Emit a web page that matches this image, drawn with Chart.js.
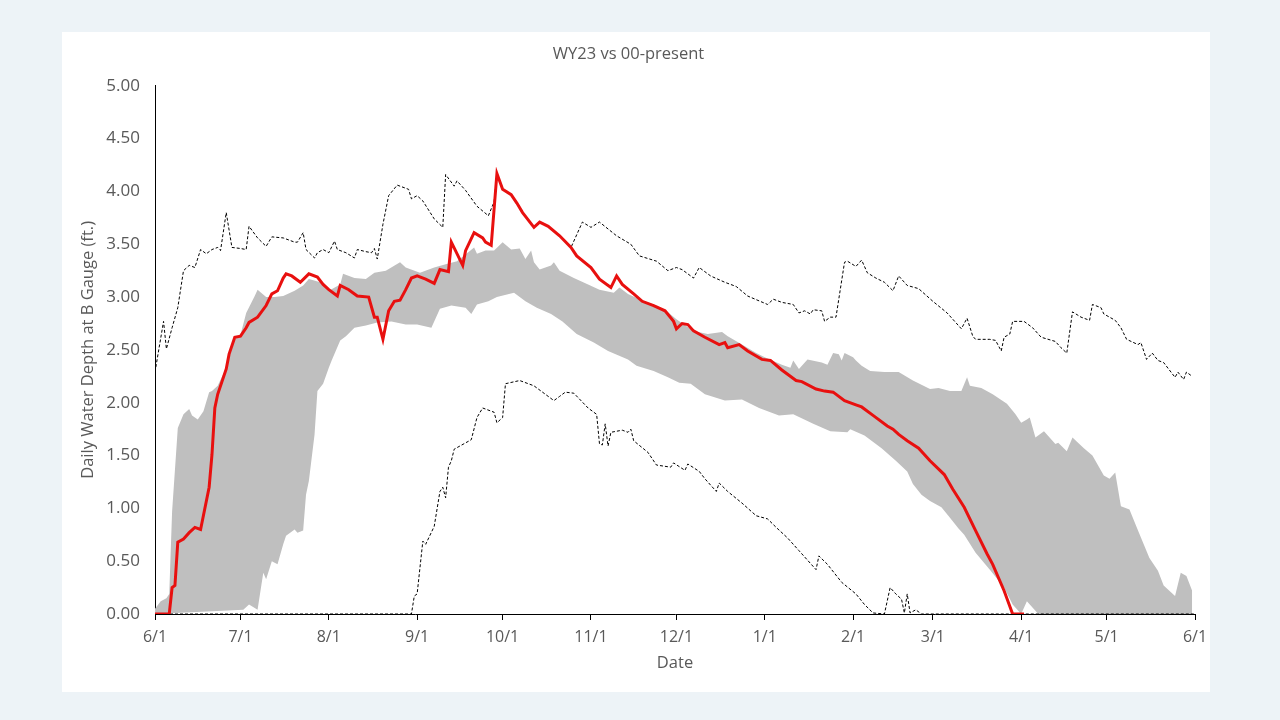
<!DOCTYPE html>
<html>
<head>
<meta charset="utf-8">
<title>WY23 vs 00-present</title>
<script src="https://cdn.jsdelivr.net/npm/chart.js@4.4.1/dist/chart.umd.min.js"></script>
<style>
  html, body { margin: 0; padding: 0; }
  body { width: 1280px; height: 720px; background: #edf3f7; position: relative; overflow: hidden; }
  .card { position: absolute; left: 62px; top: 32px; width: 1148px; height: 660px; background: #fff; }
  canvas { display: block; }
</style>
</head>
<body>
<div class="card"><canvas id="chart" width="1148" height="660"></canvas></div>
<script>
// x = days since 6/1, y = depth (ft.)
const tickDays = [0, 30, 61, 92, 122, 153, 183, 214, 245, 273, 304, 334, 365];
const tickLabels = ['6/1', '7/1', '8/1', '9/1', '10/1', '11/1', '12/1', '1/1', '2/1', '3/1', '4/1', '5/1', '6/1'];

// WY23 (red)
const wy23Days = [0,5,6,7,8,10,12,14,16,19,20,21,22,25,26,28,30,32,33,36,39,41,43,45,46,48,51,54,57,59,61,64,65,68,71,75,77,78,80,82,84,86,88,90,92,95,98,100,103,104,108,109,112,115,116,118,120,122,125,127,129,133,135,138,142,146,148,153,156,160,162,164,168,171,175,179,182,183,185,187,189,193,198,200,201,205,208,213,216,220,225,227,232,235,238,242,246,248,252,257,259,261,264,268,272,277,280,284,288,292,294,298,301,305];
const wy23Depth = [0,0,0.25,0.27,0.68,0.71,0.77,0.82,0.80,1.20,1.51,1.95,2.08,2.32,2.46,2.62,2.63,2.71,2.76,2.81,2.92,3.03,3.06,3.18,3.22,3.20,3.14,3.22,3.19,3.12,3.07,3.01,3.11,3.07,3.01,3.00,2.81,2.81,2.60,2.87,2.96,2.97,3.07,3.18,3.20,3.17,3.13,3.26,3.24,3.52,3.30,3.44,3.61,3.56,3.52,3.49,4.17,4.02,3.97,3.89,3.80,3.66,3.71,3.67,3.58,3.47,3.39,3.28,3.17,3.09,3.20,3.12,3.03,2.96,2.92,2.87,2.77,2.70,2.75,2.74,2.68,2.62,2.55,2.57,2.52,2.55,2.49,2.41,2.40,2.31,2.21,2.20,2.13,2.11,2.10,2.02,1.98,1.96,1.88,1.78,1.75,1.70,1.64,1.57,1.45,1.32,1.18,1.01,0.79,0.57,0.47,0.22,0,0];

// max of 00-present (dashed)
const maxDays = [0,3,4,6,8,10,12,14,16,18,20,22,23,25,27,30,32,33,36,39,41,45,49,50,52,53,56,57,59,61,63,64,67,70,71,74,76,77,78,80,82,85,89,90,92,94,98,101,102,105,106,109,113,117,119,120,122,125,127,129,133,135,138,142,146,150,153,156,162,167,170,176,180,183,185,189,191,195,200,204,208,215,217,220,224,226,228,230,231,234,235,237,239,242,243,246,248,250,253,256,259,261,264,268,273,278,283,285,287,288,293,295,297,298,300,301,305,308,311,316,318,320,322,325,328,329,332,333,337,339,341,345,346,348,350,352,354,358,359,361,362,364];
const maxDepth = [2.29,2.77,2.51,2.71,2.90,3.25,3.30,3.28,3.45,3.41,3.45,3.47,3.44,3.80,3.47,3.46,3.45,3.67,3.56,3.48,3.57,3.56,3.52,3.52,3.61,3.45,3.37,3.42,3.45,3.42,3.53,3.45,3.42,3.37,3.45,3.43,3.42,3.46,3.36,3.69,3.96,4.06,4.02,3.93,3.96,3.91,3.74,3.66,4.16,4.05,4.10,4.01,3.86,3.77,3.90,4.17,4.02,3.97,3.89,3.80,3.66,3.71,3.67,3.58,3.47,3.71,3.66,3.71,3.58,3.50,3.39,3.34,3.25,3.28,3.26,3.18,3.28,3.20,3.14,3.10,3.01,2.93,2.98,2.95,2.93,2.85,2.87,2.84,2.88,2.87,2.77,2.81,2.81,3.33,3.34,3.29,3.35,3.23,3.18,3.14,3.06,3.20,3.11,3.08,2.96,2.85,2.70,2.80,2.63,2.60,2.60,2.59,2.49,2.62,2.65,2.77,2.77,2.71,2.62,2.58,2.52,2.47,2.86,2.81,2.78,2.93,2.90,2.84,2.78,2.71,2.60,2.55,2.57,2.41,2.47,2.40,2.38,2.24,2.29,2.22,2.29,2.25];

// min of 00-present (dashed)
const minDays = [0,90,91,92,94,95,98,100,101,102,103,104,105,109,111,113,115,119,120,122,123,128,133,140,142,144,147,152,155,156,157,158,159,160,164,166,167,168,173,176,181,182,186,187,191,193,197,198,201,206,211,215,218,222,226,232,233,236,241,246,249,252,256,258,260,262,263,264,265,267,269,365];
const minDepth = [0,0,0.17,0.19,0.69,0.66,0.83,1.16,1.20,1.10,1.39,1.45,1.56,1.62,1.65,1.86,1.95,1.91,1.81,1.86,2.18,2.21,2.16,2.02,2.06,2.10,2.09,1.95,1.89,1.61,1.60,1.80,1.59,1.72,1.74,1.72,1.75,1.64,1.53,1.41,1.39,1.43,1.36,1.42,1.35,1.28,1.16,1.24,1.16,1.05,0.93,0.90,0.82,0.72,0.60,0.42,0.55,0.47,0.30,0.19,0.09,0.01,0,0.25,0.19,0.14,0.01,0.19,0.01,0.04,0,0];

// grey band, upper edge
const bandHiDays = [0,2,4,5,6,8,10,12,13,15,17,19,20,22,25,26,28,30,32,35,36,39,42,45,49,52,54,58,61,65,66,70,74,77,81,86,88,93,98,102,106,112,113,116,119,122,125,128,130,132,133,135,139,140,142,147,152,156,161,163,166,170,175,179,183,189,194,199,201,206,211,214,220,223,224,226,229,234,236,238,240,241,242,245,246,248,251,256,261,266,272,275,279,283,285,286,290,294,299,302,304,306,307,309,312,316,317,320,322,326,329,333,335,337,339,342,345,349,352,354,358,360,362,364];
const bandHiDepth = [0.05,0.12,0.15,0.19,0.97,1.76,1.89,1.94,1.88,1.84,1.92,2.10,2.11,2.16,2.33,2.47,2.60,2.64,2.85,3.01,3.07,3.00,3.00,3.01,3.06,3.11,3.17,3.14,3.06,3.12,3.22,3.18,3.17,3.23,3.25,3.33,3.28,3.23,3.28,3.31,3.34,3.47,3.41,3.44,3.44,3.52,3.45,3.46,3.36,3.44,3.33,3.26,3.30,3.33,3.25,3.18,3.12,3.07,3.04,3.09,3.03,2.98,2.93,2.88,2.79,2.68,2.65,2.67,2.63,2.55,2.47,2.43,2.36,2.33,2.40,2.32,2.41,2.38,2.36,2.47,2.46,2.40,2.47,2.43,2.40,2.35,2.30,2.29,2.29,2.21,2.13,2.14,2.11,2.11,2.24,2.16,2.14,2.08,1.99,1.89,1.81,1.84,1.86,1.67,1.73,1.61,1.62,1.54,1.67,1.57,1.50,1.31,1.28,1.34,1.02,0.99,0.79,0.53,0.41,0.27,0.17,0.39,0.36,0.22];

// grey band, lower edge
const bandLoDays = [0,31,33,36,38,39,41,43,45,46,49,50,52,53,54,56,57,59,61,62,65,67,70,74,78,83,88,92,97,100,104,109,111,113,117,120,126,130,134,139,143,148,154,159,166,169,175,180,184,188,193,200,206,212,219,224,231,237,243,244,249,255,260,264,266,269,272,276,279,282,284,288,293,298,301,304,306,310,364];
const bandLoDepth = [0,0.04,0.09,0.04,0.39,0.33,0.50,0.47,0.66,0.74,0.80,0.77,0.79,1.13,1.26,1.70,2.11,2.18,2.33,2.40,2.59,2.63,2.71,2.73,2.76,2.77,2.74,2.74,2.71,2.89,2.92,2.90,2.84,2.93,2.96,3.00,3.04,2.96,2.90,2.84,2.77,2.65,2.57,2.49,2.41,2.35,2.30,2.24,2.19,2.18,2.08,2.02,2.03,1.95,1.88,1.89,1.80,1.73,1.72,1.75,1.69,1.57,1.45,1.35,1.23,1.13,1.07,1.01,0.91,0.81,0.75,0.58,0.42,0.25,0.09,0,0.12,0,0];

const pts = (xs, ys) => xs.map((x, i) => ({ x: x, y: ys[i] }));

const grey = '#595959';
Chart.defaults.font.family = "'Open Sans', sans-serif";
Chart.defaults.color = grey;

new Chart(document.getElementById('chart'), {
  type: 'line',
  data: {
    datasets: [
      { label: 'WY23', data: pts(wy23Days, wy23Depth), borderColor: '#e8100f', borderWidth: 3, pointRadius: 0, fill: false, order: 0 },
      { label: 'Max', data: pts(maxDays, maxDepth), borderColor: '#000', borderWidth: 1, borderDash: [3, 2], pointRadius: 0, fill: false, order: 1 },
      { label: 'Min', data: pts(minDays, minDepth), borderColor: '#000', borderWidth: 1, borderDash: [3, 2], pointRadius: 0, fill: false, order: 1 },
      { label: 'Band high', data: pts(bandHiDays, bandHiDepth), borderColor: 'rgba(0,0,0,0)', borderWidth: 0, pointRadius: 0, backgroundColor: '#bfbfbf', fill: '+1', order: 2 },
      { label: 'Band low', data: pts(bandLoDays, bandLoDepth), borderColor: 'rgba(0,0,0,0)', borderWidth: 0, pointRadius: 0, fill: false, order: 3 }
    ]
  },
  options: {
    responsive: false,
    animation: false,
    devicePixelRatio: 1,
    layout: { padding: { left: 0, right: 15, top: 0, bottom: 0 } },
    plugins: {
      legend: { display: false },
      tooltip: { enabled: false },
      title: {
        display: true,
        text: 'WY23 vs 00-present',
        color: grey,
        font: { size: 16.5, weight: 'normal' },
        padding: { top: 12, bottom: 22 }
      }
    },
    scales: {
      x: {
        type: 'linear',
        min: 0,
        max: 365,
        afterBuildTicks: s => { s.ticks = tickDays.map(v => ({ value: v })); },
        afterFit: s => { s.height = 78; s.paddingLeft = 0; s.paddingRight = 0; },
        ticks: {
          autoSkip: false,
          maxRotation: 0,
          padding: 8,
          color: grey,
          font: { size: 16 },
          callback: (v, i) => tickLabels[i]
        },
        grid: { drawOnChartArea: false, drawTicks: true, tickLength: 6, color: '#000' },
        border: { display: true, color: '#000', width: 1 },
        title: { display: true, text: 'Date', color: grey, font: { size: 16.5 }, padding: { top: 0, bottom: 19 } }
      },
      y: {
        min: 0,
        max: 5,
        afterFit: s => { s.width = 93; },
        ticks: {
          stepSize: 0.5,
          padding: 15,
          color: grey,
          font: { size: 17 },
          callback: v => v.toFixed(2)
        },
        grid: { display: false, drawTicks: false },
        border: { display: true, color: '#000', width: 1 },
        title: { display: true, text: 'Daily Water Depth at B Gauge (ft.)', color: grey, font: { size: 16.5 }, padding: { top: 16, bottom: 0 } }
      }
    }
  }
});
</script>
</body>
</html>
